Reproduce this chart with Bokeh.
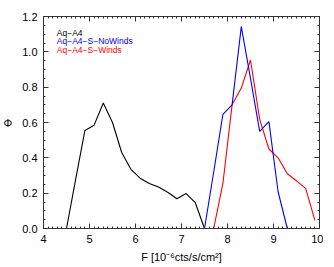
from bokeh.plotting import figure
from bokeh.models import LinearAxis, SingleIntervalTicker, Range1d, Label, PrintfTickFormatter, CustomJSTickFormatter
from bokeh.embed import file_html
from bokeh.resources import INLINE

# Aq-A4
x_black = [4.0, 4.5, 4.7, 4.9, 5.1, 5.3, 5.5, 5.7, 5.9, 6.1, 6.3, 6.5, 6.7, 6.9, 7.1, 7.3, 7.5, 10.0]
y_black = [0.0, 0.0, 0.28, 0.555, 0.585, 0.71, 0.60, 0.43, 0.335, 0.285, 0.255, 0.235, 0.205, 0.168, 0.198, 0.146, 0.0, 0.0]
# Aq-A4-S-NoWinds
x_blue = [4.0, 7.5, 7.7, 7.9, 8.1, 8.3, 8.5, 8.7, 8.9, 9.1, 9.3]
y_blue = [0.0, 0.0, 0.32, 0.646, 0.70, 1.143, 0.85, 0.55, 0.605, 0.208, 0.0]
# Aq-A4-S-Winds
x_red = [7.7, 7.9, 8.1, 8.3, 8.5, 8.7, 8.9, 9.1, 9.3, 9.5, 9.7, 9.9]
y_red = [0.0, 0.255, 0.70, 0.795, 0.954, 0.618, 0.45, 0.40, 0.31, 0.27, 0.227, 0.046]

series_names = ["Aq\u2212A4", "Aq\u2212A4\u2212S\u2212NoWinds", "Aq\u2212A4\u2212S\u2212Winds"]
series_colors = ["black", "#0000ff", "#ff0000"]

FONT = "Liberation Sans"
AX = "#333333"

p = figure(frame_width=276, frame_height=212, output_backend="svg", toolbar_location=None,
           x_range=Range1d(4, 10), y_range=Range1d(0, 1.2000001),
           min_border_left=43, min_border_right=4, min_border_top=16, min_border_bottom=28,
           x_axis_location=None, y_axis_location=None)
p.grid.visible = False
p.outline_line_color = AX
p.background_fill_color = "white"
p.border_fill_color = "white"

xt = SingleIntervalTicker(interval=1, num_minor_ticks=10)
yt = SingleIntervalTicker(interval=0.2, num_minor_ticks=4)

def style(ax, labels=True):
    ax.axis_line_color = AX
    ax.major_tick_line_color = AX
    ax.minor_tick_line_color = AX
    ax.major_tick_in = 5
    ax.major_tick_out = 0
    ax.minor_tick_in = 2
    ax.minor_tick_out = 0
    ax.major_label_text_font = FONT
    ax.major_label_text_font_size = "11px"
    ax.major_label_text_color = "black"
    ax.axis_label_text_font = FONT
    ax.axis_label_text_font_size = "11px"
    ax.axis_label_text_font_style = "normal"
    ax.axis_label_text_color = "black"
    if not labels:
        ax.formatter = CustomJSTickFormatter(code="return '';")
        ax.major_label_standoff = 0

xb = LinearAxis(ticker=xt, axis_label="F [10\u207b\u2076cts/s/cm\u00b2]")
style(xb)
xb.formatter = PrintfTickFormatter(format="%d")
xb.major_label_standoff = 6
xb.axis_label_standoff = 5
p.add_layout(xb, "below")

yl = LinearAxis(ticker=yt, axis_label="\u03a6")
style(yl)
yl.formatter = PrintfTickFormatter(format="%.1f")
yl.major_label_standoff = 6
yl.axis_label_standoff = 7
yl.axis_label_orientation = "horizontal"
p.add_layout(yl, "left")

xa = LinearAxis(ticker=xt)
style(xa, labels=False)
p.add_layout(xa, "above")
yr = LinearAxis(ticker=yt)
style(yr, labels=False)
p.add_layout(yr, "right")

p.line(x_red, y_red, line_color=series_colors[2], line_width=1.1)
p.line(x_blue, y_blue, line_color=series_colors[1], line_width=1.1)
p.line(x_black, y_black, line_color=series_colors[0], line_width=1.1)

leg_y = [1.109, 1.062, 1.008]
for name, col, yy in zip(series_names, series_colors, leg_y):
    p.add_layout(Label(x=4.29, y=yy, text=name, text_color=col, text_font=FONT,
                       text_font_size="8.5px", text_baseline="alphabetic"))

open("out.html", "w").write(file_html(p, INLINE))
